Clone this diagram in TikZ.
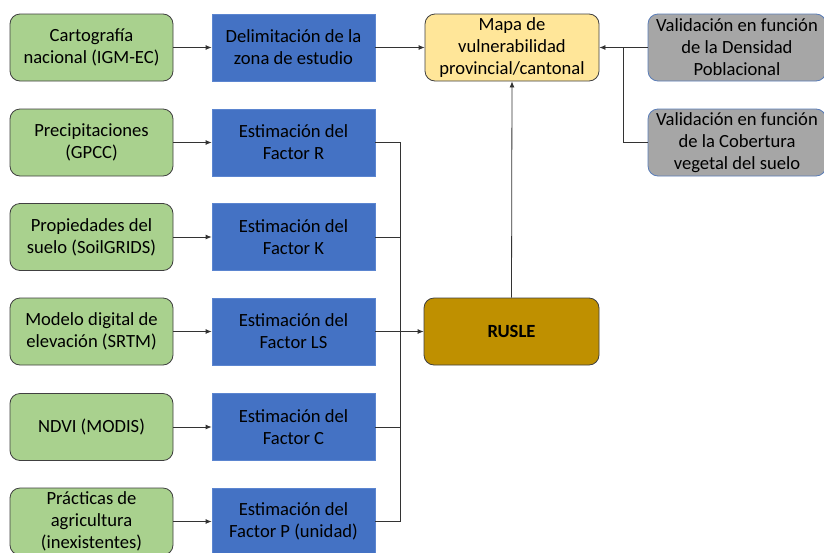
\documentclass[tikz,border=0pt]{standalone}
\usepackage{fontspec}
\setmainfont{Carlito}
\usetikzlibrary{arrows.meta,positioning}
\definecolor{gfill}{HTML}{A9D18E}
\definecolor{bfill}{HTML}{4472C4}
\definecolor{bline}{HTML}{5B85D0}
\definecolor{yfill}{HTML}{FFE699}
\definecolor{grfill}{HTML}{A6A6A6}
\definecolor{grline}{HTML}{5A7DB8}
\definecolor{rfill}{HTML}{BF9000}
\definecolor{dline}{HTML}{404040}
\tikzset{
  base/.style={minimum width=163pt, minimum height=67pt, align=center, inner sep=2pt,
    font=\fontsize{18.6pt}{22pt}\selectfont, text=black},
  greenbox/.style={base, fill=gfill, draw=dline, line width=0.8pt, rounded corners=10pt},
  bluebox/.style={base, fill=bfill, draw=bline, line width=0.8pt},
  yellowbox/.style={base, minimum width=174pt, fill=yfill, draw=dline, line width=0.8pt, rounded corners=10pt},
  graybox/.style={base, minimum width=178pt, fill=grfill, draw=grline, line width=0.8pt, rounded corners=10pt},
  ruslebox/.style={base, minimum width=175pt, fill=rfill, draw=dline, line width=0.8pt, rounded corners=10pt, font=\fontsize{18.6pt}{22pt}\selectfont\bfseries},
  conn/.style={draw=black!80, line width=0.8pt},
  arr/.style={conn, -{Latex[length=6pt,width=5pt]}},
}
\begin{document}
\begin{tikzpicture}[x=1pt,y=-1pt]
\useasboundingbox (0,0) rectangle (824,552);
\clip (0,0) rectangle (824,552);
\fill[white] (0,0) rectangle (824,552);
% green input boxes
\node[greenbox] (g1) at (91.5,47.5) {Cartografía\\nacional (IGM-EC)};
\node[greenbox] (g2) at (91.5,142.5) {Precipitaciones\\(GPCC)};
\node[greenbox] (g3) at (91.5,237) {Propiedades del\\suelo (SoilGRIDS)};
\node[greenbox] (g4) at (91.5,331.5) {Modelo digital de\\elevación (SRTM)};
\node[greenbox] (g5) at (91.5,427) {NDVI (MODIS)};
\node[greenbox] (g6) at (91.5,521.5) {Prácticas de\\agricultura\\(inexistentes)};
% blue boxes
\node[bluebox] (b1) at (293.5,47.5) {Delimitación de la\\zona de estudio};
\node[bluebox] (b2) at (293.5,142.5) {Estimación del\\Factor R};
\node[bluebox] (b3) at (293.5,237) {Estimación del\\Factor K};
\node[bluebox] (b4) at (293.5,331.5) {Estimación del\\Factor LS};
\node[bluebox] (b5) at (293.5,427) {Estimación del\\Factor C};
\node[bluebox] (b6) at (293.5,521.5) {Estimación del\\Factor P (unidad)};
% others
\node[yellowbox] (map) at (512,47.5) {Mapa de\\vulnerabilidad\\provincial/cantonal};
\node[ruslebox] (rusle) at (511.5,331.5) {RUSLE};
\node[graybox] (v1) at (737,47.5) {Validación en función\\de la Densidad\\Poblacional};
\node[graybox] (v2) at (737,142.5) {Validación en función\\de la Cobertura\\vegetal del suelo};
% connectors
\foreach \i in {1,...,6} {\draw[arr] (g\i) -- (b\i);}
\draw[arr] (b1) -- (map);
\coordinate (bus) at (400,331.5);
\foreach \i in {2,3,5,6} {\draw[conn] (b\i.east) -| (bus);}
\draw[conn] (b4.east) -- (bus);
\draw[arr] (bus) -- (rusle.west);
\draw[arr] (rusle.north) -- (map.south);
\draw[arr] (v1.west) -- (map.east);
\coordinate (vj) at (623,47.5);
\draw[conn] (v2.west) -| (vj);
\end{tikzpicture}
\end{document}
